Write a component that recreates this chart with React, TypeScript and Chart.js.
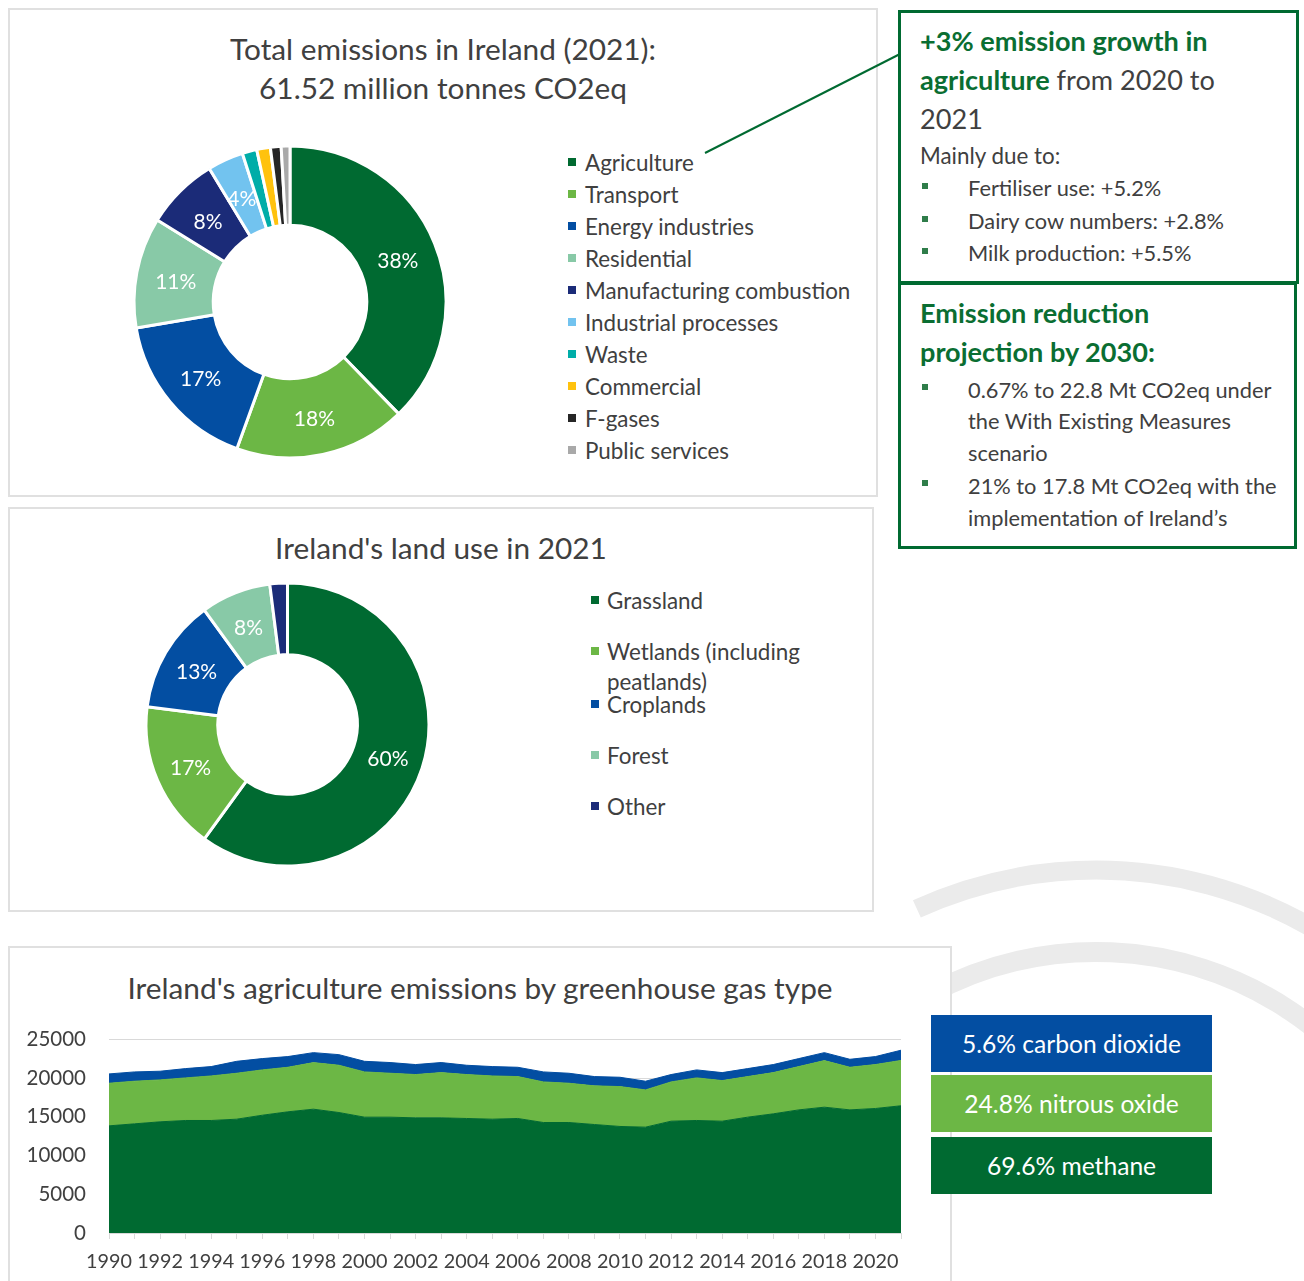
import React, { useEffect, useRef } from 'react';
import { Chart, registerables } from 'chart.js';

Chart.register(...registerables);

const FONT = 'Lato, "Open Sans", sans-serif';
const TEXT = '#404040';
const GREEN_TXT = '#0a6e32';
const BOX_GREEN = '#006a31';
const PANEL_BORDER = '#e0e0e0';

// ---- Total emissions (2021) ----
const emissionSectors = [
  'Agriculture',
  'Transport',
  'Energy industries',
  'Residential',
  'Manufacturing combustion',
  'Industrial processes',
  'Waste',
  'Commercial',
  'F-gases',
  'Public services',
];
const emissionShares = [37.5, 17.7, 16.7, 11.4, 7.5, 3.7, 1.5, 1.4, 1.1, 0.9];
const emissionLabels = ['38%', '18%', '17%', '11%', '8%', '4%', '', '', '', ''];
const emissionColors = [
  '#006a31', '#6cb745', '#034ea2', '#88c9a7', '#1b2b78',
  '#72c3ef', '#00ada8', '#ffc20e', '#262626', '#a9a9a9',
];

// ---- Land use (2021) ----
const landTypes = ['Grassland', 'Wetlands (including peatlands)', 'Croplands', 'Forest', 'Other'];
const landShares = [60, 17, 13, 8, 2];
const landLabels = ['60%', '17%', '13%', '8%', ''];
const landColors = ['#006a31', '#6cb745', '#034ea2', '#88c9a7', '#1b2b78'];

// ---- Agriculture emissions by gas (kt CO2eq) ----
const years = [
  1990, 1991, 1992, 1993, 1994, 1995, 1996, 1997, 1998, 1999, 2000, 2001, 2002, 2003, 2004, 2005,
  2006, 2007, 2008, 2009, 2010, 2011, 2012, 2013, 2014, 2015, 2016, 2017, 2018, 2019, 2020, 2021,
];
const methane = [
  13830, 14090, 14350, 14520, 14520, 14690, 15200, 15640, 15980, 15550, 14950, 14950, 14860, 14860, 14780, 14690,
  14780, 14260, 14260, 14000, 13750, 13660, 14430, 14520, 14430, 14950, 15380, 15890, 16240, 15890, 16070, 16420,
];
const nitrousOxide = [
  5500, 5500, 5410, 5500, 5750, 5930, 5850, 5750, 6010, 6100, 5840, 5670, 5590, 5840, 5670, 5580,
  5410, 5240, 5070, 4990, 5150, 4810, 5070, 5500, 5240, 5240, 5320, 5590, 6010, 5500, 5670, 5850,
];
const carbonDioxide = [
  1200, 1200, 1120, 1200, 1210, 1540, 1460, 1380, 1290, 1370, 1370, 1380, 1290, 1300, 1200, 1210,
  1200, 1290, 1290, 1200, 1200, 1120, 950, 1030, 1030, 1030, 1040, 1030, 1030, 1030, 1030, 1320,
];
const yMax = 25000;
const yStep = 5000;

const gasShares = [
  { text: '5.6% carbon dioxide', color: '#034ea2' },
  { text: '24.8% nitrous oxide', color: '#6cb745' },
  { text: '69.6% methane', color: '#006a31' },
];

function sliceLabelPlugin(labels: string[], size: number, dy: number) {
  return {
    id: 'sliceLabels',
    afterDatasetsDraw(chart: any) {
      const ctx = chart.ctx;
      const meta = chart.getDatasetMeta(0);
      ctx.save();
      ctx.fillStyle = '#ffffff';
      ctx.font = `${size}px ${FONT}`;
      ctx.textAlign = 'center';
      ctx.textBaseline = 'middle';
      meta.data.forEach((arc: any, i: number) => {
        const t = labels[i];
        if (!t) return;
        const p = arc.tooltipPosition(true);
        ctx.fillText(t, p.x, p.y + dy);
      });
      ctx.restore();
    },
  };
}

function Doughnut(props: {
  labels: string[];
  values: number[];
  colors: string[];
  sliceLabels: string[];
  cx: number;
  cy: number;
  radius: number;
  cutout: number;
  fontSize: number;
  labelDy: number;
}) {
  const ref = useRef<HTMLCanvasElement | null>(null);
  const size = Math.ceil(props.radius * 2 + 12);
  useEffect(() => {
    if (!ref.current) return;
    const chart = new Chart(ref.current, {
      type: 'doughnut',
      data: {
        labels: props.labels,
        datasets: [
          {
            data: props.values,
            backgroundColor: props.colors,
            borderColor: '#ffffff',
            borderWidth: 3,
          },
        ],
      },
      options: {
        animation: false,
        responsive: false,
        maintainAspectRatio: false,
        radius: props.radius,
        cutout: props.cutout,
        layout: { padding: 0 },
        plugins: { legend: { display: false }, tooltip: { enabled: false } },
      } as any,
      plugins: [sliceLabelPlugin(props.sliceLabels, props.fontSize, props.labelDy)],
    });
    return () => chart.destroy();
  }, []);
  return (
    <canvas
      ref={ref}
      width={size}
      height={size}
      style={{
        position: 'absolute',
        left: props.cx - size / 2,
        top: props.cy - size / 2,
        width: size,
        height: size,
      }}
    />
  );
}

function AreaChart() {
  const ref = useRef<HTMLCanvasElement | null>(null);
  // canvas placed at (10, 1004), 910 x 277 ; plot area x 109..901, y 1039..1233
  useEffect(() => {
    if (!ref.current) return;
    const mk = (label: string, data: number[], color: string, fill: any) => ({
      label,
      data,
      backgroundColor: color,
      borderColor: color,
      borderWidth: 1,
      pointRadius: 0,
      tension: 0,
      fill,
    });
    const chart = new Chart(ref.current, {
      type: 'line',
      data: {
        labels: years.map(String),
        datasets: [
          mk('Methane', methane, '#006a31', 'origin'),
          mk('Nitrous oxide', nitrousOxide, '#6cb745', '-1'),
          mk('Carbon dioxide', carbonDioxide, '#034ea2', '-1'),
        ],
      },
      options: {
        animation: false,
        responsive: false,
        maintainAspectRatio: false,
        layout: { padding: { left: 0, right: 19, top: 35, bottom: 0 } },
        plugins: { legend: { display: false }, tooltip: { enabled: false } },
        scales: {
          x: {
            offset: false,
            grid: { drawOnChartArea: false, drawTicks: true, tickLength: 6, color: '#d9d9d9' },
            border: { color: '#d9d9d9', width: 1 },
            ticks: {
              autoSkip: false,
              maxRotation: 0,
              minRotation: 0,
              padding: 11,
              color: TEXT,
              font: { family: FONT, size: 19.8 },
              callback: (_v: any, i: number) => (i % 2 === 0 ? String(years[i]) : ''),
            },
            afterFit: (s: any) => {
              s.height = 48;
            },
          },
          y: {
            stacked: true,
            min: 0,
            max: yMax,
            ticks: {
              stepSize: yStep,
              padding: 23,
              color: TEXT,
              font: { family: FONT, size: 20.5 },
              callback: (v: any) => String(v),
            },
            grid: { color: '#d9d9d9', drawTicks: false },
            border: { display: false },
            afterFit: (s: any) => {
              s.width = 99;
            },
          },
        },
      } as any,
    });
    return () => chart.destroy();
  }, []);
  return (
    <canvas
      ref={ref}
      width={910}
      height={277}
      style={{ position: 'absolute', left: 10, top: 1004, width: 910, height: 277 }}
    />
  );
}

function T(props: {
  x: number;
  y: number;
  size: number;
  bold?: boolean;
  color?: string;
  center?: boolean;
  children: React.ReactNode;
}) {
  const lh = Math.round(props.size * 1.4);
  return (
    <div
      style={{
        position: 'absolute',
        left: props.x,
        top: props.y - lh / 2,
        lineHeight: `${lh}px`,
        fontSize: props.size,
        fontWeight: props.bold ? 700 : 400,
        color: props.color || TEXT,
        whiteSpace: 'nowrap',
        transform: props.center ? 'translateX(-50%)' : undefined,
        fontFamily: FONT,
      }}
    >
      {props.children}
    </div>
  );
}

function Marker(props: { x: number; y: number; color: string; s?: number }) {
  const s = props.s || 8;
  return (
    <div
      style={{
        position: 'absolute',
        left: props.x,
        top: props.y - s / 2,
        width: s,
        height: s,
        background: props.color,
      }}
    />
  );
}

function Panel(props: { l: number; t: number; r: number; b: number; noBottom?: boolean }) {
  return (
    <div
      style={{
        position: 'absolute',
        left: props.l,
        top: props.t,
        width: props.r - props.l,
        height: props.b - props.t,
        boxSizing: 'border-box',
        border: `2px solid ${PANEL_BORDER}`,
        borderBottom: props.noBottom ? 'none' : `2px solid ${PANEL_BORDER}`,
        background: '#ffffff',
      }}
    />
  );
}

const TITLE = 29.8;
const LEG = 22.4;
const BOX_TITLE = 27.1;
const BOX_TXT = 21.8;

export default function App() {
  const legend1Y = [162, 194, 226, 258, 290, 322, 354, 386, 418, 450];
  const legend2Y = [600, 651, 704, 755, 806];
  const bulletColor = '#2f7d4a';
  return (
    <div
      style={{
        position: 'absolute',
        left: 0,
        top: 0,
        width: 1304,
        height: 1281,
        overflow: 'hidden',
        background: '#ffffff',
        fontFamily: FONT,
      }}
    >
      {/* decorative arcs */}
      <svg width={1304} height={1281} style={{ position: 'absolute', left: 0, top: 0 }}>
        <path
          d={`M ${1096 + 432 * Math.cos((-114.5 * Math.PI) / 180)} ${1302 + 432 * Math.sin((-114.5 * Math.PI) / 180)} A 432 432 0 0 1 ${1096 + 432 * Math.cos((-35 * Math.PI) / 180)} ${1302 + 432 * Math.sin((-35 * Math.PI) / 180)}`}
          fill="none"
          stroke="#ebebeb"
          strokeWidth={19}
        />
        <path
          d={`M ${1096 + 350 * Math.cos((-150 * Math.PI) / 180)} ${1302 + 350 * Math.sin((-150 * Math.PI) / 180)} A 350 350 0 0 1 ${1096 + 350 * Math.cos((-25 * Math.PI) / 180)} ${1302 + 350 * Math.sin((-25 * Math.PI) / 180)}`}
          fill="none"
          stroke="#ebebeb"
          strokeWidth={20}
        />
      </svg>

      {/* Panel 1 */}
      <Panel l={8} t={8} r={878} b={497} />
      <T x={443} y={49} size={TITLE} center>
        Total emissions in Ireland (2021):
      </T>
      <T x={443} y={88} size={TITLE} center>
        61.52 million tonnes CO2eq
      </T>
      <Doughnut
        labels={emissionSectors}
        values={emissionShares}
        colors={emissionColors}
        sliceLabels={emissionLabels}
        cx={290}
        cy={302}
        radius={156}
        cutout={79}
        fontSize={21}
        labelDy={3}
      />
      {emissionSectors.map((s, i) => (
        <React.Fragment key={s}>
          <Marker x={568} y={legend1Y[i]} color={emissionColors[i]} />
          <T x={585} y={legend1Y[i]} size={LEG}>
            {s}
          </T>
        </React.Fragment>
      ))}

      {/* Panel 2 */}
      <Panel l={8} t={507} r={874} b={912} />
      <T x={441} y={548} size={TITLE} center>
        Ireland's land use in 2021
      </T>
      <Doughnut
        labels={landTypes}
        values={landShares}
        colors={landColors}
        sliceLabels={landLabels}
        cx={287}
        cy={724}
        radius={141.5}
        cutout={72}
        fontSize={21}
        labelDy={2}
      />
      {landTypes.map((s, i) => (
        <React.Fragment key={s}>
          <Marker x={591} y={legend2Y[i]} color={landColors[i]} />
          {i === 1 ? (
            <>
              <T x={607} y={legend2Y[i]} size={LEG}>
                Wetlands (including
              </T>
              <T x={607} y={681} size={LEG}>
                peatlands)
              </T>
            </>
          ) : (
            <T x={607} y={legend2Y[i]} size={LEG}>
              {s}
            </T>
          )}
        </React.Fragment>
      ))}

      {/* Panel 3 */}
      <Panel l={8} t={946} r={952} b={1290} noBottom />
      <T x={480} y={988} size={TITLE} center>
        Ireland's agriculture emissions by greenhouse gas type
      </T>
      <AreaChart />

      {/* gas share boxes */}
      {gasShares.map((g, i) => (
        <div
          key={g.text}
          style={{
            position: 'absolute',
            left: 931,
            top: [1015, 1075, 1137][i],
            width: 281,
            height: 57,
            background: g.color,
            color: '#ffffff',
            fontSize: 24.6,
            lineHeight: '57px',
            textAlign: 'center',
            fontFamily: FONT,
          }}
        >
          {g.text}
        </div>
      ))}

      {/* Green info box 1 */}
      <div
        style={{
          position: 'absolute',
          left: 898,
          top: 10,
          width: 401,
          height: 274,
          boxSizing: 'border-box',
          border: `3px solid ${BOX_GREEN}`,
          background: '#ffffff',
        }}
      />
      {/* Green info box 2 */}
      <div
        style={{
          position: 'absolute',
          left: 898,
          top: 282,
          width: 399,
          height: 267,
          boxSizing: 'border-box',
          border: `3px solid ${BOX_GREEN}`,
          background: '#ffffff',
        }}
      />
      <T x={920} y={41} size={BOX_TITLE} bold color={GREEN_TXT}>
        +3% emission growth in
      </T>
      <T x={920} y={80} size={BOX_TITLE}>
        <span style={{ color: GREEN_TXT, fontWeight: 700 }}>agriculture</span> from 2020 to
      </T>
      <T x={920} y={119} size={BOX_TITLE}>
        2021
      </T>
      <T x={920} y={155} size={22.4}>
        Mainly due to:
      </T>
      {[
        ['Fertiliser use: +5.2%', 187],
        ['Dairy cow numbers: +2.8%', 220],
        ['Milk production: +5.5%', 252],
      ].map(([t, y]) => (
        <React.Fragment key={t as string}>
          <Marker x={922} y={(y as number) - 1} color={bulletColor} s={6} />
          <T x={968} y={y as number} size={BOX_TXT}>
            {t}
          </T>
        </React.Fragment>
      ))}

      <T x={920} y={313} size={BOX_TITLE} bold color={GREEN_TXT}>
        Emission reduction
      </T>
      <T x={920} y={352} size={BOX_TITLE} bold color={GREEN_TXT}>
        projection by 2030:
      </T>
      <Marker x={922} y={387} color={bulletColor} s={6} />
      <T x={968} y={389} size={BOX_TXT}>
        0.67% to 22.8 Mt CO2eq under
      </T>
      <T x={968} y={420} size={BOX_TXT}>
        the With Existing Measures
      </T>
      <T x={968} y={452} size={BOX_TXT}>
        scenario
      </T>
      <Marker x={922} y={483} color={bulletColor} s={6} />
      <T x={968} y={485} size={BOX_TXT}>
        21% to 17.8 Mt CO2eq with the
      </T>
      <T x={968} y={517} size={BOX_TXT}>
        implementation of Ireland’s
      </T>

      {/* connector line */}
      <svg width={1304} height={300} style={{ position: 'absolute', left: 0, top: 0 }}>
        <line x1={705} y1={153} x2={900} y2={54} stroke={BOX_GREEN} strokeWidth={2} />
      </svg>
    </div>
  );
}
